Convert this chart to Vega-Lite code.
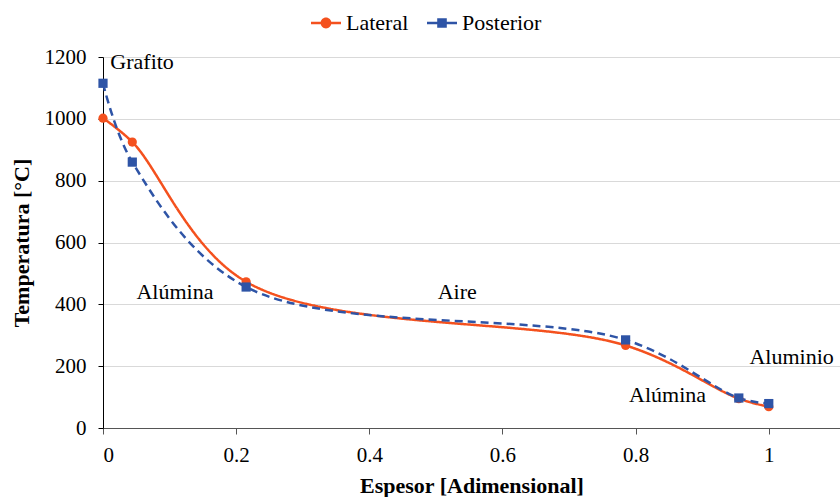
{
  "$schema": "https://vega.github.io/schema/vega-lite/v6.json",
  "width": 737,
  "height": 371,
  "autosize": "none",
  "padding": {"left": 103, "top": 57, "right": 0, "bottom": 69},
  "background": "white",
  "config": {
    "view": {"stroke": null},
    "font": "Liberation Serif"
  },
  "datasets": {
    "series": [
      {"serie": "Lateral", "x": 0, "t": 1002},
      {"serie": "Lateral", "x": 0.044, "t": 925},
      {"serie": "Lateral", "x": 0.215, "t": 473},
      {"serie": "Lateral", "x": 0.785, "t": 267},
      {"serie": "Lateral", "x": 0.955, "t": 95},
      {"serie": "Lateral", "x": 1, "t": 69},
      {"serie": "Posterior", "x": 0, "t": 1115},
      {"serie": "Posterior", "x": 0.044, "t": 860},
      {"serie": "Posterior", "x": 0.215, "t": 456},
      {"serie": "Posterior", "x": 0.785, "t": 285},
      {"serie": "Posterior", "x": 0.955, "t": 97},
      {"serie": "Posterior", "x": 1, "t": 79}
    ],
    "labels": [
      {"label": "Grafito", "x": 0.011, "t": 1183, "align": "left"},
      {"label": "Alúmina", "x": 0.108, "t": 440, "align": "center"},
      {"label": "Aire", "x": 0.532, "t": 440, "align": "center"},
      {"label": "Aluminio", "x": 0.971, "t": 230, "align": "left"},
      {"label": "Alúmina", "x": 0.848, "t": 108, "align": "center"}
    ]
  },
  "resolve": {"scale": {"shape": "independent", "color": "independent"}, "legend": {"shape": "independent", "color": "independent"}},
  "layer": [
    {
      "data": {"name": "series"},
      "mark": {"type": "line", "interpolate": "catmull-rom", "strokeWidth": 2.5},
      "encoding": {
        "x": {"field": "x", "type": "quantitative", "scale": {"domain": [0, 1.107], "nice": false, "zero": false, "padding": 0},
          "axis": {"values": [0, 0.2, 0.4, 0.6, 0.8, 1], "format": "~g", "title": "Espesor [Adimensional]", "grid": false, "domainColor": "#555", "tickColor": "#555", "tickSize": 6, "labelPadding": 10, "titlePadding": 10,
            "labelFont": "Liberation Serif", "labelFontSize": 21, "labelColor": "black", "titleFont": "Liberation Serif", "titleFontSize": 22, "titleColor": "black", "titleFontWeight": "bold"}},
        "y": {"field": "t", "type": "quantitative", "scale": {"domain": [0, 1200], "nice": false, "padding": 0},
          "axis": {"values": [0, 200, 400, 600, 800, 1000, 1200], "format": "d", "title": "Temperatura [°C]", "grid": true, "gridColor": "#d9d9d9", "domainColor": "black", "tickColor": "black", "tickSize": 5, "labelPadding": 12, "titlePadding": 11,
            "labelFont": "Liberation Serif", "labelFontSize": 21, "labelColor": "black", "titleFont": "Liberation Serif", "titleFontSize": 22, "titleColor": "black", "titleFontWeight": "bold"}},
        "color": {"field": "serie", "type": "nominal", "scale": {"domain": ["Lateral", "Posterior"], "range": ["#F4511E", "#2E54A6"]}, "legend": null},
        "strokeDash": {"field": "serie", "type": "nominal", "scale": {"domain": ["Lateral", "Posterior"], "range": [[1, 0], [8, 5]]}, "legend": null}
      }
    },
    {
      "data": {"name": "series"},
      "mark": {"type": "point", "filled": true, "size": 85, "opacity": 1},
      "encoding": {
        "x": {"field": "x", "type": "quantitative"},
        "y": {"field": "t", "type": "quantitative"},
        "color": {"field": "serie", "type": "nominal", "scale": {"domain": ["Lateral", "Posterior"], "range": ["#F4511E", "#2E54A6"]}, "legend": null},
        "shape": {"field": "serie", "type": "nominal", "scale": {"domain": ["Lateral", "Posterior"], "range": ["circle", "square"]}, "legend": null}
      }
    },
    {
      "data": {"name": "series"},
      "mark": {"type": "point", "filled": true, "opacity": 0},
      "encoding": {
        "x": {"field": "x", "type": "quantitative"},
        "y": {"field": "t", "type": "quantitative"},
        "color": {"field": "serie", "type": "nominal", "scale": {"domain": ["Lateral", "Posterior"], "range": ["#F4511E", "#2E54A6"]},
          "legend": {"title": null, "orient": "none", "legendX": 208, "legendY": -49, "direction": "horizontal", "symbolSize": 900, "symbolOpacity": 1, "symbolStrokeWidth": 0, "columnPadding": 18, "labelOffset": 5,
            "labelFont": "Liberation Serif", "labelFontSize": 22, "labelColor": "black"}},
        "shape": {"field": "serie", "type": "nominal",
          "scale": {"domain": ["Lateral", "Posterior"], "range": [
            "M-1,-0.09H-0.3V0.09H-1Z M0.3,-0.09H1V0.09H0.3Z M-0.36,0A0.36,0.36,0,1,1,0.36,0A0.36,0.36,0,1,1,-0.36,0Z",
            "M-1,-0.09H-0.3V0.09H-1Z M0.3,-0.09H1V0.09H0.3Z M-0.32,-0.32H0.32V0.32H-0.32Z"
          ]},
          "legend": {"title": null, "orient": "none", "legendX": 208, "legendY": -49, "direction": "horizontal", "symbolSize": 900, "symbolOpacity": 1, "symbolStrokeWidth": 0, "columnPadding": 18, "labelOffset": 5,
            "labelFont": "Liberation Serif", "labelFontSize": 22, "labelColor": "black"}}
      }
    },
    {
      "data": {"name": "labels"},
      "transform": [{"filter": "datum.align == 'left'"}],
      "mark": {"type": "text", "fontSize": 22, "font": "Liberation Serif", "color": "black", "baseline": "middle", "align": "left"},
      "encoding": {
        "x": {"field": "x", "type": "quantitative"},
        "y": {"field": "t", "type": "quantitative"},
        "text": {"field": "label"}
      }
    },
    {
      "data": {"name": "labels"},
      "transform": [{"filter": "datum.align == 'center'"}],
      "mark": {"type": "text", "fontSize": 22, "font": "Liberation Serif", "color": "black", "baseline": "middle", "align": "center"},
      "encoding": {
        "x": {"field": "x", "type": "quantitative"},
        "y": {"field": "t", "type": "quantitative"},
        "text": {"field": "label"}
      }
    }
  ]
}
